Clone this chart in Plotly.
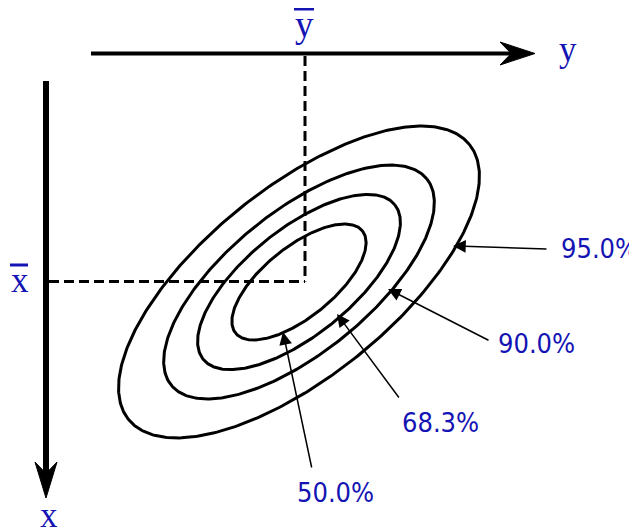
import numpy as np
import plotly.graph_objects as go

# Confidence ellipses of a bivariate normal, drawn in the figure's own frame
# (horizontal axis = y, downward axis = x, units = pixels of the page)
levels = ["50.0%", "68.3%", "90.0%", "95.0%"]
level_scale = [0.372, 0.562, 0.75, 1.0]
centre_y, centre_x = 299, 282
semi_major, semi_minor = 219, 94.4
tilt_deg = 38.9
mean_y, mean_x = 305, 281.5

# pointer arrows: label end and the point they touch on each ellipse
label_y = [312, 400, 490, 548]
label_x = [469, 399, 341, 249]
tip_y = [283, 337, 388, 453]
tip_x = [332, 314, 289, 246]

BLUE = "#1414b4"
SERIF = "Liberation Serif, Times New Roman, serif"
SANS = "DejaVu Sans Condensed, DejaVu Sans, sans-serif"
PAGE_OFFSET = 8  # the html body margin

fig = go.Figure()

t = np.linspace(0, 2 * np.pi, 400)
th = np.radians(tilt_deg)
for s in level_scale:
    u = s * semi_major * np.cos(t)
    v = s * semi_minor * np.sin(t)
    fig.add_trace(go.Scatter(
        x=centre_y + u * np.cos(th) - v * np.sin(th),
        y=centre_x - (u * np.sin(th) + v * np.cos(th)),
        mode="lines", line=dict(color="black", width=3),
        hoverinfo="skip",
    ))


def arrow_head(tip, direction, length, width, notch=0.68):
    # filled stealth-style arrow head
    d = np.array(direction, float)
    n = np.array([-d[1], d[0]])
    tip = np.array(tip, float)
    pts = [tip, tip - length * d + width / 2 * n, tip - notch * length * d,
           tip - length * d - width / 2 * n, tip]
    pts = np.array(pts)
    fig.add_trace(go.Scatter(
        x=pts[:, 0], y=pts[:, 1], mode="lines", fill="toself",
        fillcolor="black", line=dict(color="black", width=1), hoverinfo="skip",
    ))


# axis arrows
fig.add_shape(type="line", x0=91, y0=53.5, x1=515, y1=53.5,
              line=dict(color="black", width=4))
arrow_head((535, 53.5), (1, 0), 35, 23)
fig.add_shape(type="line", x0=46, y0=81, x1=46, y1=475,
              line=dict(color="black", width=6))
arrow_head((46, 498), (0, 1), 36, 22)

# dashed guides to the means
fig.add_shape(type="line", x0=49, y0=mean_x, x1=mean_y, y1=mean_x,
              line=dict(color="black", width=3, dash="10px,5px"))
fig.add_shape(type="line", x0=mean_y, y0=56, x1=mean_y, y1=mean_x,
              line=dict(color="black", width=3, dash="10px,5px"))

# pointers and percentage labels
for lab, ly, lx, ty, tx in zip(levels, label_y, label_x, tip_y, tip_x):
    fig.add_annotation(x=ty, y=tx, ax=ly, ay=lx, axref="x", ayref="y",
                       text="", showarrow=True, arrowhead=2, arrowsize=1.7,
                       arrowwidth=1.5, arrowcolor="black")

label_text_pos = {"50.0%": (296, 492), "68.3%": (401, 422),
                  "90.0%": (497, 343), "95.0%": (560, 248)}
for lab in levels:
    px_, py_ = label_text_pos[lab]
    fig.add_annotation(x=px_, y=py_, text=lab, showarrow=False,
                       xanchor="left", yanchor="middle", borderpad=0,
                       font=dict(family=SANS, size=27, color=BLUE))

# axis names and mean symbols (bars over the means drawn as short strokes)
for txt, x, y, size in [("y", 568, 49, 35), ("x", 49, 515, 35),
                        ("y", 304, 24, 37), ("x", 20, 280, 35)]:
    fig.add_annotation(x=x, y=y, text=txt, showarrow=False,
                       xanchor="center", yanchor="middle", borderpad=0,
                       font=dict(family=SERIF, size=size, color=BLUE))
fig.add_shape(type="line", x0=294, y0=9, x1=314, y1=9,
              line=dict(color=BLUE, width=3))
fig.add_shape(type="line", x0=10, y0=265, x1=28, y1=265,
              line=dict(color=BLUE, width=3))

fig.update_layout(
    width=637, height=531,
    margin=dict(l=0, r=0, t=0, b=0),
    paper_bgcolor="white", plot_bgcolor="white",
    showlegend=False,
    xaxis=dict(range=[PAGE_OFFSET, 637 + PAGE_OFFSET], visible=False, fixedrange=True),
    yaxis=dict(range=[531 + PAGE_OFFSET, PAGE_OFFSET], visible=False, fixedrange=True),
)

fig.write_html("out.html")
